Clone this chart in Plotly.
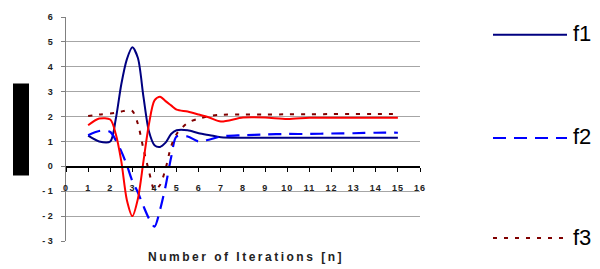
import plotly.graph_objects as go

# ---- data ----
x_vals = [1, 1.5, 2, 2.25, 2.5, 2.75, 3, 3.25, 3.5, 3.75, 4, 4.25, 4.5, 4.75, 5,
          5.5, 6, 6.5, 7, 8, 9, 10, 11, 12, 13, 14, 15]
f1 = [1.23, 1.0, 1.0, 1.9, 3.3, 4.3, 4.78, 4.35, 2.8, 1.4, 0.85, 0.78, 0.95, 1.3, 1.45,
      1.45, 1.33, 1.25, 1.17, 1.15, 1.15, 1.15, 1.15, 1.15, 1.15, 1.15, 1.15]
f2 = [1.25, 1.42, 1.38, 1.05, 0.6, 0.05, -0.6, -1.05, -1.6, -2.1, -2.42, -1.75, -0.8, 0.35, 1.2,
      1.2, 1.0, 1.08, 1.2, 1.25, 1.28, 1.3, 1.3, 1.32, 1.33, 1.35, 1.35]
f3 = [2.02, 2.08, 2.12, 2.15, 2.2, 2.25, 2.22, 1.7, 0.7, -0.2, -0.95, -0.75, -0.1, 0.8, 1.3,
      1.75, 1.92, 2.02, 2.07, 2.08, 2.08, 2.09, 2.09, 2.1, 2.1, 2.1, 2.1]
f4 = [1.65, 1.92, 1.88, 1.3, 0.2, -1.35, -2.0, -1.3, 0.2, 1.7, 2.65, 2.8, 2.62, 2.45, 2.28,
      2.2, 2.08, 1.95, 1.8, 1.96, 1.96, 1.9, 1.95, 1.95, 1.95, 1.95, 1.95]

x_ticks = list(range(0, 17))
y_ticks = [-3, -2, -1, 0, 1, 2, 3, 4, 5, 6]
y_ticktext = ["- 3", "- 2", "- 1", "0", "1", "2", "3", "4", "5", "6"]
legend_names = ["f1", "f2", "f3"]
x_title = "Number of Iterations [n]"

# ---- layout geometry ----
W, H = 600, 269
ML, MR, MT, MB = 66, 180, 15, 28
PW, PH = W - ML - MR, H - MT - MB


def px(x):
    return (x - ML) / PW


def py(y):
    return (H - MB - y) / PH


FONT = "Liberation Sans, Arial, sans-serif"

styles = [
    dict(color="#000080", width=2, dash="solid"),
    dict(color="#0000FF", width=2.2, dash="13px,8px"),
    dict(color="#800000", width=2, dash="4px,7px"),
    dict(color="#FF0000", width=2, dash="solid"),
]

fig = go.Figure()
for ys, st in zip([f1, f2, f3, f4], styles):
    fig.add_trace(go.Scatter(x=x_vals, y=ys, mode="lines",
                             line=dict(shape="spline", smoothing=0.8, **st),
                             showlegend=False, hoverinfo="skip"))

shapes = [
    # redacted y-axis title box
    dict(type="rect", xref="paper", yref="paper", x0=px(13), x1=px(29), y0=py(175), y1=py(82),
         fillcolor="black", line=dict(width=0)),
]
annotations = [
    dict(text="<b>" + x_title + "</b>", xref="paper", yref="paper", x=px(246), y=py(257),
         showarrow=False, xanchor="center", yanchor="middle", name="xtitle",
         font=dict(family=FONT, size=12, color="#222")),
]
legend_y = [33, 137, 238]
for name, st, ly in zip(legend_names, styles[:3], legend_y):
    shapes.append(dict(type="line", xref="paper", yref="paper", x0=px(493), x1=px(567),
                       y0=py(ly), y1=py(ly), line=dict(color=st["color"], width=2, dash=st["dash"])))
    annotations.append(dict(text=name, xref="paper", yref="paper", x=px(571), y=py(ly - 1),
                            showarrow=False, xanchor="left", yanchor="middle",
                            font=dict(family=FONT, size=22, color="black")))

fig.update_layout(
    width=W, height=H,
    margin=dict(l=ML, r=MR, t=MT, b=MB, pad=0),
    paper_bgcolor="white", plot_bgcolor="white",
    showlegend=False,
    shapes=shapes, annotations=annotations,
    xaxis=dict(range=[0, 16], tickvals=x_ticks, ticktext=[str(v) for v in x_ticks],
               anchor="free", position=1 / 3,
               showline=True, linecolor="black", linewidth=1.5,
               ticks="outside", ticklen=4, tickcolor="black", tickwidth=1,
               showgrid=False, zeroline=False,
               tickfont=dict(family=FONT, size=9, color="#222", weight="bold"),
               ticklabelstandoff=8),
    yaxis=dict(range=[-3, 6], tickvals=y_ticks, ticktext=y_ticktext,
               showline=True, linecolor="#808080", linewidth=1.5,
               ticks="outside", ticklen=4, tickcolor="#808080",
               showgrid=True, gridcolor="#A6A6A6", gridwidth=1,
               zeroline=True, zerolinecolor="black", zerolinewidth=1.5,
               tickfont=dict(family=FONT, size=9, color="#222", weight="bold"),
               ticklabelstandoff=6),
)

post = """
document.body.style.margin='0';
document.body.style.overflow='hidden';
document.querySelectorAll('.annotation-text').forEach(function(t){
  if (t.textContent.indexOf('Iterations') >= 0) { t.style.letterSpacing = '2.5px'; }
});
document.querySelectorAll('.xtick text').forEach(function(t){ t.style.letterSpacing = '1px'; });
"""

fig.write_html("out.html", config={"displayModeBar": False, "staticPlot": True},
               post_script=post)
